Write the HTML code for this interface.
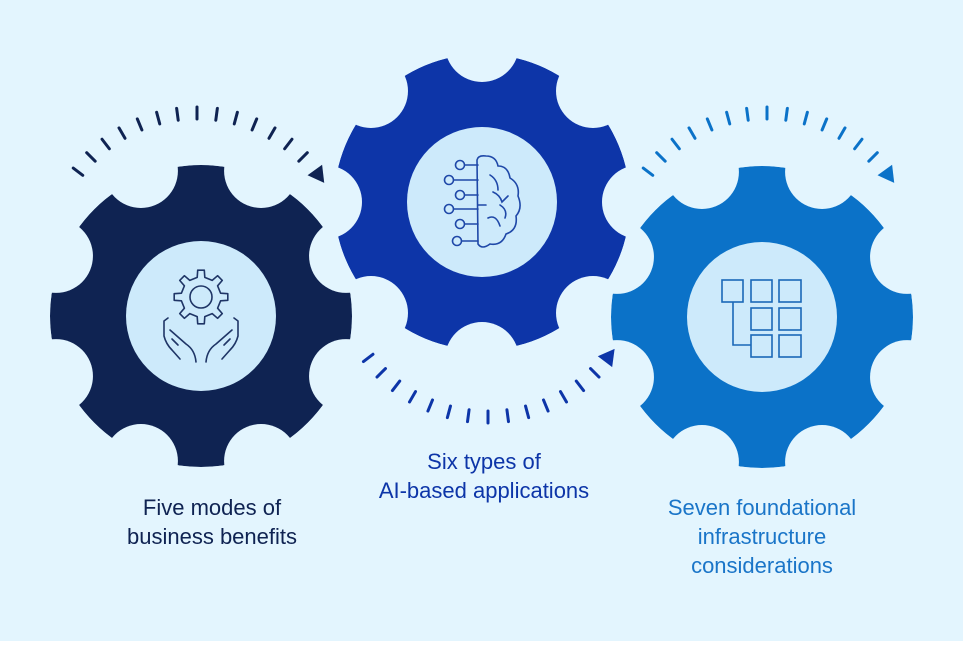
<!DOCTYPE html>
<html><head><meta charset="utf-8"><style>
html,body{margin:0;padding:0;background:#fff;}
#wrap{position:relative;width:968px;height:647px;overflow:hidden;background:#fff;}
svg{position:absolute;left:0;top:0;}
</style></head><body><div id="wrap">
<svg id="s" width="968" height="647" viewBox="0 0 968 647" xmlns="http://www.w3.org/2000/svg">
<rect x="0" y="0" width="963" height="641" fill="#e3f5fe"/>
<defs id="defs"></defs>
<g id="g"></g>
<g fill="none" stroke="#1f3566" stroke-width="1.6" stroke-linecap="round" stroke-linejoin="round">
 <path id="smallgear" d=""/>
 <circle cx="201" cy="297" r="11"/>
 <path d="M168 318 L164 321 L164 336 Q166 344 172 350 L180 359"/>
 <path d="M170 330 L186 344 Q195 350 196 362"/>
 <path d="M172 339 L178 345"/>
 <path d="M234 318 L238 321 L238 336 Q236 344 230 350 L222 359"/>
 <path d="M232 330 L216 344 Q207 350 206 362"/>
 <path d="M230 339 L224 345"/>
</g>
<g fill="none" stroke="#1f48a8" stroke-width="1.6" stroke-linecap="round">
 <circle cx="460" cy="165" r="4.5"/><circle cx="449" cy="180" r="4.5"/><circle cx="460" cy="195" r="4.5"/>
 <circle cx="449" cy="209" r="4.5"/><circle cx="460" cy="224" r="4.5"/><circle cx="457" cy="241" r="4.5"/>
 <path d="M465 165 H478 M454 180 H478 M465 195 H478 M454 209 H478 M465 224 H478 M462 241 H478"/>
 <path d="M477 160 Q478 155 486 156 Q496 156 498 166 Q508 166 510 178 Q520 184 518 196 Q523 208 516 216 Q518 230 506 234 Q502 246 490 244 Q482 250 478 244 Z"/>
 <path d="M490 175 Q498 180 498 190 M493 192 Q500 195 502 202 L508 196 M500 205 Q508 210 505 218 M488 218 Q496 214 500 226 M478 205 H486"/>
</g>
<g fill="none" stroke="#1a68b8" stroke-width="1.6">
 <rect x="722" y="280" width="21" height="22"/><rect x="751" y="280" width="21" height="22"/><rect x="779" y="280" width="22" height="22"/>
 <rect x="751" y="308" width="21" height="22"/><rect x="779" y="308" width="22" height="22"/>
 <rect x="751" y="335" width="21" height="22"/><rect x="779" y="335" width="22" height="22"/>
 <path d="M733 302 V345 H751"/>
</g>
<g font-family="Liberation Sans, sans-serif" font-size="22" text-anchor="middle">
 <text x="212" y="515" fill="#0f2352">Five modes of</text>
 <text x="212" y="544" fill="#0f2352">business benefits</text>
 <text x="484" y="469" fill="#0d35a8">Six types of</text>
 <text x="484" y="498" fill="#0d35a8">AI-based applications</text>
 <text x="762" y="515" fill="#1a75c8">Seven foundational</text>
 <text x="762" y="544" fill="#1a75c8">infrastructure</text>
 <text x="762" y="573" fill="#1a75c8">considerations</text>
</g>
</svg>
<script>
var NS="http://www.w3.org/2000/svg",defs=document.getElementById('defs'),g=document.getElementById('g');
function el(n,a,p){var e=document.createElementNS(NS,n);for(var k in a)e.setAttribute(k,a[k]);(p||g).appendChild(e);return e;}
function gear(id,cx,cy,R,off,col){
 var m=el('mask',{id:id},defs);
 el('circle',{cx:cx,cy:cy,r:R,fill:'#fff'},m);
 for(var k=0;k<8;k++){var a=(off+45*k)*Math.PI/180;
  el('circle',{cx:cx+157*Math.sin(a),cy:cy-157*Math.cos(a),r:37,fill:'#000'},m);}
 el('circle',{cx:cx,cy:cy,r:R,fill:col,mask:'url(#'+id+')'});
 el('circle',{cx:cx,cy:cy,r:75,fill:'#cdeafb'});
}
gear('m1',201,316,151,22.5,'#0f2352');
gear('m2',482,202,148,0,'#0d35a8');
gear('m3',762,317,151,22.5,'#0b72c8');
function arc(cx,cy,r,dir,col,ta){
 for(var t=-52.5;t<=45.1;t+=7.5){var a=t*Math.PI/180,s=Math.sin(a),c=Math.cos(a)*dir;
  el('line',{x1:cx+(r-6)*s,y1:cy-(r-6)*c,x2:cx+(r+6)*s,y2:cy-(r+6)*c,stroke:col,'stroke-width':3,'stroke-linecap':'round'});}
 var a=ta*Math.PI/180,s=Math.sin(a),c=Math.cos(a);
 var px=cx+r*s,py=cy-r*c*dir;
 var tx=c,ty=s*dir;
 var nx=s,ny=-c*dir;
 var tip=[px+tx*10,py+ty*10],b1=[px-tx*6+nx*9,py-ty*6+ny*9],b2=[px-tx*6-nx*9,py-ty*6-ny*9];
 el('polygon',{points:tip.join(',')+' '+b1.join(',')+' '+b2.join(','),fill:col});
}
arc(197,263,150,1,'#0f2352',54);
arc(767,263,150,1,'#0b72c8',54);
arc(488,266,151,-1,'#0d35a8',53);
(function(){var cx=201,cy=297,d='';for(var i=0;i<8;i++){
 var b=i*45;var pts=[[b-11,20],[b-7,27],[b+7,27],[b+11,20],[b+34,20]];
 pts.forEach(function(p,j){var a=p[0]*Math.PI/180;var x=cx+p[1]*Math.sin(a),y=cy-p[1]*Math.cos(a);d+=(i==0&&j==0?'M':'L')+x.toFixed(1)+' '+y.toFixed(1)+' ';});}
 document.getElementById('smallgear').setAttribute('d',d+'Z');})();
</script>
</div></body></html>
